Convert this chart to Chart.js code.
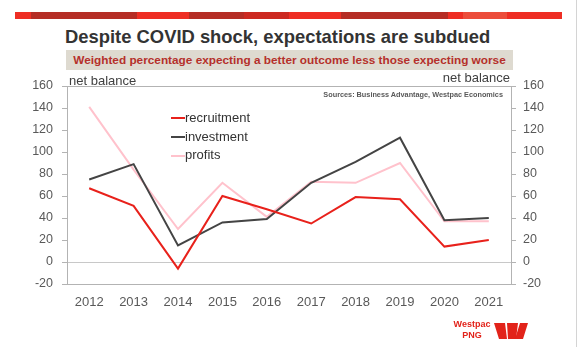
<!DOCTYPE html>
<html>
<head>
<meta charset="utf-8">
<script src="https://cdn.jsdelivr.net/npm/chart.js@4.4.1/dist/chart.umd.min.js"></script>
<style>
  html, body { margin: 0; padding: 0; background: #fff; }
  body { font-family: Arial, "Liberation Sans", sans-serif; }
  #page { position: relative; width: 580px; height: 347px; overflow: hidden; }
  #page .abs { position: absolute; white-space: nowrap; }
  #banner { left: 15px; top: 12px; width: 547px; height: 7px;
    background: linear-gradient(to right,
      #ee2e24 0px, #ee2e24 16px, #b52d25 16px, #b52d25 122px,
      #ee2e24 122px, #ee2e24 174px, #b52d25 174px, #b52d25 229px,
      #cc2921 229px, #cc2921 274px, #ee2e24 274px, #ee2e24 326px,
      #b52d25 326px, #b52d25 433px, #ee2e24 433px, #ee2e24 448px,
      #ec4d3b 448px, #ec4d3b 492px, #ee2e24 492px, #ee2e24 547px); }
  #title { left: 65px; top: 26px; font-size: 18.4px; font-weight: bold; line-height: 22px; color: #333; }
  #subtitle { left: 66px; top: 50px; width: 447px; height: 20px; line-height: 20px; text-align: center;
    background: #dedad0; color: #b5302b; font-size: 11.8px; font-weight: bold; }
  .unit { font-size: 13px; line-height: 16px; color: #404040; }
  #sources { right: 77px; top: 90px; font-size: 7.3px; font-weight: bold; color: #595959; line-height: 10px; }
  #chart { position: absolute; left: 0; top: 0; }
  #legend { left: 171px; top: 109px; font-size: 13px; color: #333; }
  #legend .row { height: 18.7px; line-height: 18.7px; display: flex; align-items: center; }
  #legend .swatch { width: 14px; height: 2px; margin-right: 0px; }
  #edge { left: 576px; top: 0; width: 1px; height: 347px; background: #d4d4d4; }
  #brand { left: 452px; top: 319px; width: 40px; text-align: center; color: #e2231a; font-weight: bold;
    font-family: "Liberation Sans Narrow", Arial, sans-serif; font-size: 9px; line-height: 11px; }
</style>
</head>
<body>
<div id="page">
  <div id="banner" class="abs"></div>
  <div id="title" class="abs">Despite COVID shock, expectations are subdued</div>
  <div id="subtitle" class="abs">Weighted percentage expecting a better outcome less those expecting worse</div>
  <canvas id="chart" width="580" height="347"></canvas>
  <div class="abs unit" style="left:69px; top:73px;">net balance</div>
  <div class="abs unit" style="right:70px; top:70px;">net balance</div>
  <div id="sources" class="abs">Sources: Business Advantage, Westpac Economics</div>
  <div id="legend" class="abs"></div>
  <div id="brand" class="abs">Westpac<br>PNG</div>
  <svg class="abs" style="left:0;top:0" width="580" height="347">
    <polygon fill="#e2231a" points="494,323 505,323 507,339 499,339"/>
    <polygon fill="#e2231a" points="507,323 518,323 516,339 508,339"/>
    <polygon fill="#e2231a" points="520,323 528,323 523,339 515,339"/>
  </svg>
  <div id="edge" class="abs"></div>
</div>

<script>
// survey years
const years = ['2012', '2013', '2014', '2015', '2016', '2017', '2018', '2019', '2020', '2021'];

// net balance, per cent
const recruitment = [67, 51, -6, 60, 48, 35, 59, 57, 14, 20];
const investment  = [75, 89, 15, 36, 39, 72, 91, 113, 38, 40];
const profits     = [141, 84, 30, 72, 41, 73, 72, 90, 37, 37];

const seriesNames  = ['recruitment', 'investment', 'profits'];
const seriesColors = ['#e8211b', '#444444', '#ffc2cc'];

// y axis range
const yMin = -20;
const yMax = 160;
const yStep = 20;

const axisGrey = '#b3b3b3';
const labelGrey = '#595959';

// top edge of the plot frame
const frameTop = {
    id: 'frameTop',
    beforeDatasetsDraw(chart) {
        const { ctx, chartArea } = chart;
        ctx.save();
        ctx.strokeStyle = axisGrey;
        ctx.lineWidth = 1;
        ctx.beginPath();
        ctx.moveTo(chartArea.left, Math.round(chartArea.top) + 0.5);
        ctx.lineTo(chartArea.right, Math.round(chartArea.top) + 0.5);
        ctx.stroke();
        ctx.restore();
    }
};

const yAxis = (position, width, padding) => ({
    type: 'linear',
    position: position,
    min: yMin,
    max: yMax,
    ticks: {
        stepSize: yStep,
        padding: padding,
        color: labelGrey,
        font: { family: 'Arial, "Liberation Sans"', size: 12.5 }
    },
    grid: {
        drawOnChartArea: position === 'left',
        color: (c) => (c.tick && c.tick.value === 0 ? '#c8c8c8' : 'rgba(0,0,0,0)'),
        tickColor: axisGrey,
        tickLength: 5
    },
    border: { color: axisGrey },
    afterFit: (scale) => { scale.width = width; }
});

const datasets = [recruitment, investment, profits].map((values, i) => ({
    label: seriesNames[i],
    data: values,
    borderColor: seriesColors[i],
    backgroundColor: seriesColors[i],
    borderWidth: 2,
    pointRadius: 0,
    tension: 0,
    yAxisID: 'y'
}));
// draw the pale series underneath
datasets[2].order = 3;
datasets[1].order = 2;
datasets[0].order = 1;

const chart = new Chart(document.getElementById('chart').getContext('2d'), {
    type: 'line',
    data: { labels: years, datasets: datasets },
    options: {
        responsive: false,
        animation: false,
        layout: { padding: { top: 86, left: 0, right: 0, bottom: 0 } },
        plugins: {
            legend: { display: false },
            tooltip: { enabled: false }
        },
        scales: {
            x: {
                offset: true,
                grid: { display: false, drawTicks: false },
                border: { color: axisGrey },
                ticks: {
                    padding: 11,
                    color: labelGrey,
                    maxRotation: 0,
                    font: { family: 'Arial, "Liberation Sans"', size: 13 }
                },
                afterFit: (scale) => { scale.height = 63; }
            },
            y: yAxis('left', 67, 9),
            y2: yAxis('right', 69, 7)
        }
    },
    plugins: [frameTop]
});

// legend rows
const legend = document.getElementById('legend');
chart.data.datasets.forEach((ds) => {
    const row = document.createElement('div');
    row.className = 'row';
    const sw = document.createElement('span');
    sw.className = 'swatch';
    sw.style.background = ds.borderColor;
    const txt = document.createElement('span');
    txt.textContent = ds.label;
    row.appendChild(sw);
    row.appendChild(txt);
    legend.appendChild(row);
});
</script>
</body>
</html>
